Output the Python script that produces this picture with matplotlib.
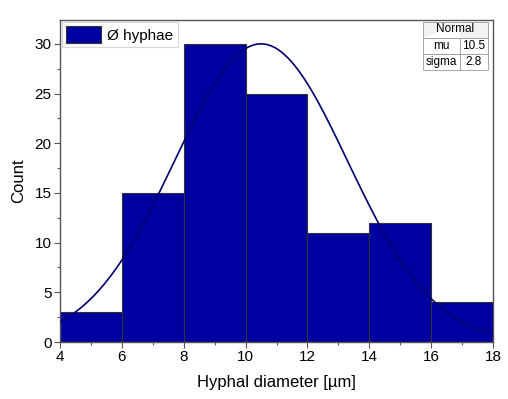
import numpy as np
import matplotlib
matplotlib.use("Agg")
import matplotlib.pyplot as plt

plt.rcParams['font.family'] = ['Liberation Sans', 'DejaVu Sans']

bin_edges = [4, 6, 8, 10, 12, 14, 16, 18]
counts = [3, 15, 30, 25, 11, 12, 4]
mu = 10.5
sigma = 2.8
peak = 30.0
series_label = "Ø hyphae"
x_ticks = [4, 6, 8, 10, 12, 14, 16, 18]
y_ticks = [0, 5, 10, 15, 20, 25, 30]

fig = plt.figure(figsize=(5.08, 3.99), dpi=100)
ax = fig.add_axes([60/508, 57/399, 433/508, 322/399])

widths = np.diff(bin_edges)
ax.bar(bin_edges[:-1], counts, width=widths, align='edge',
       color='#0000A0', edgecolor='#333333', linewidth=0.8,
       label=series_label, zorder=2)

xs = np.linspace(bin_edges[0], bin_edges[-1], 400)
ys = peak * np.exp(-(xs - mu) ** 2 / (2 * sigma ** 2))
ax.plot(xs, ys, color='#000070', linewidth=1.2, zorder=3)

ax.set_xlim(4, 18)
ax.set_ylim(0, 32.4)
ax.set_xticks(x_ticks)
ax.set_yticks(y_ticks)
ax.set_xticks(np.arange(5, 18, 2), minor=True)
ax.set_yticks(np.arange(2.5, 32, 5), minor=True)
ax.tick_params(axis='both', which='major', direction='out', length=4,
               width=0.8, color='#555555', labelsize=11, pad=2)
ax.tick_params(axis='both', which='minor', direction='out', length=2.5,
               width=0.8, color='#555555')
for s in ax.spines.values():
    s.set_color('#555555')
    s.set_linewidth(1.0)

ax.set_xlabel("Hyphal diameter [µm]", fontsize=12, labelpad=8)
ax.set_ylabel("Count", fontsize=12, labelpad=6)

leg = ax.legend(loc='upper left', fontsize=11, frameon=True, fancybox=False,
                borderpad=0.3, handlelength=2.3, handleheight=1.3,
                handletextpad=0.4, borderaxespad=0.1)
leg.get_frame().set_edgecolor('#cccccc')
leg.get_frame().set_linewidth(0.8)

# stats table
tbl = ax.table(cellText=[["mu", "10.5"], ["sigma", "2.8"]],
               colLabels=["", ""],
               bbox=[(423-60)/433, 1-(70-20)/322, (488-423)/433, (70-22)/322],
               colWidths=[37, 28], cellLoc='center')
tbl.auto_set_font_size(False)
for (r, c), cell in tbl.get_celld().items():
    cell.set_edgecolor('#999999')
    cell.set_linewidth(0.6)
    cell.get_text().set_fontsize(8.5)
    if r == 0:
        cell.set_facecolor('#f2f2f2')
        cell.visible_edges = 'TBL' if c == 0 else 'TBR'
ax.text(((423+488)/2-60)/433, 1-(29.5-20)/322, "Normal", transform=ax.transAxes,
        ha='center', va='center', fontsize=8.5, zorder=10)

fig.savefig("out.png", dpi=100)
